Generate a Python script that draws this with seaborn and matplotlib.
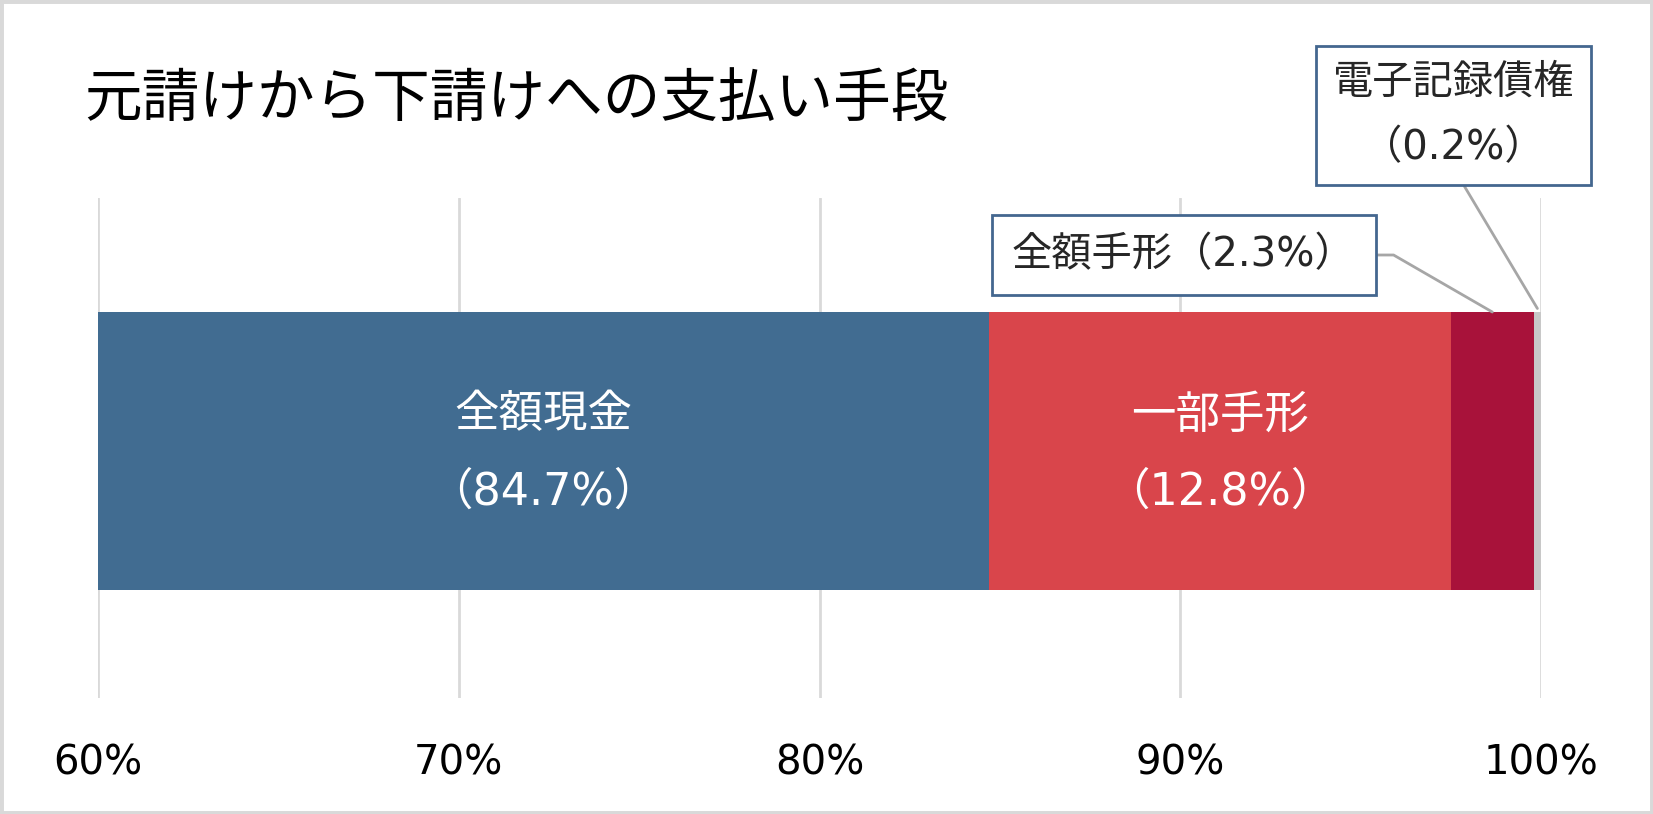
import numpy as np
import pandas as pd
import matplotlib
matplotlib.use('Agg')
import matplotlib.pyplot as plt
from matplotlib.patches import Rectangle
import seaborn as sns

# Data
categories = ['全額現金', '一部手形', '全額手形', '電子記録債権']
shares = [84.7, 12.8, 2.3, 0.2]
colors = ['#416C91', '#D9454B', '#A8123A', '#C8C8C8']
ticks = [60, 70, 80, 90, 100]

sns.set_theme(style='white')
plt.rcParams['font.family'] = ['DejaVu Sans', 'Noto Sans CJK JP']

fig = plt.figure(figsize=(16.53, 8.14), dpi=100)
ax = fig.add_axes([98 / 1653, 1 - 698 / 814, 1443 / 1653, 500 / 814])

df = pd.DataFrame({'cat': categories, 'share': shares, 'color': colors})
df['end'] = df['share'].cumsum()
df['start'] = df['end'] - df['share']
df['grp'] = '支払い'

# stacked bar: draw cumulative totals from the back to the front
for _, row in df.iloc[::-1].iterrows():
    sns.barplot(x=[row['end']], y=[row['grp']], color=row['color'], orient='h',
                width=1.112, saturation=1, linewidth=0, ax=ax, zorder=2)

x0, x1 = 60, 100
ax.set_xlim(x0, x1)
ax.set_ylim(-0.988, 1.012)
ax.set_xticks(ticks)
ax.set_xticklabels([f'{t}%' for t in ticks], fontsize=29)
ax.set_yticks([])
ax.set_xlabel('')
ax.set_ylabel('')
ax.tick_params(axis='x', length=0, pad=33, labelcolor='black')
ax.xaxis.grid(True, color='#D9D9D9', linewidth=2)
ax.set_axisbelow(True)
for s in ax.spines.values():
    s.set_visible(False)

# labels inside the bars (centred on the visible part)
for _, row in df.iloc[:2].iterrows():
    mid = (max(row['start'], x0) + row['end']) / 2
    ax.text(mid, -0.01, f"{row['cat']}\n（{row['share']}%）", color='white', fontsize=32,
            ha='center', va='center', linespacing=2.0, zorder=3)

# callouts for small segments
box = dict(boxstyle='square,pad=0.5', fc='white', ec='#44678F', lw=2)
line = dict(arrowstyle='-', color='#A6A6A6', lw=2, shrinkA=0, shrinkB=0)

r = df.iloc[2]
ax.annotate(f"{r['cat']}（{r['share']}%）", xy=((r['start'] + r['end']) / 2, 0.556),
            xytext=(90.10, 0.784), fontsize=29, ha='center', va='center', bbox=box,
            arrowprops=dict(line, relpos=(1, 0.5), connectionstyle='angle,angleA=0,angleB=-30,rad=0'),
            annotation_clip=False, zorder=4)

r = df.iloc[3]
ax.annotate(f"{r['cat']}\n（{r['share']}%）", xy=((r['start'] + r['end']) / 2, 0.57),
            xytext=(97.58, 1.342), fontsize=29, ha='center', va='center',
            bbox=dict(box, boxstyle='square,pad=0.42'),
            linespacing=1.83,
            arrowprops=dict(line, relpos=(0.5, 0)),
            annotation_clip=False, zorder=4)

fig.text(84 / 1653, 1 - 100 / 814, '元請けから下請けへの支払い手段', fontsize=41.5,
         ha='left', va='center', color='black')

fig.patches.append(Rectangle((0, 0), 1, 1, transform=fig.transFigure, fill=False,
                             ec='#D9D9D9', lw=5, zorder=10))

fig.savefig('out.png', dpi=100)
